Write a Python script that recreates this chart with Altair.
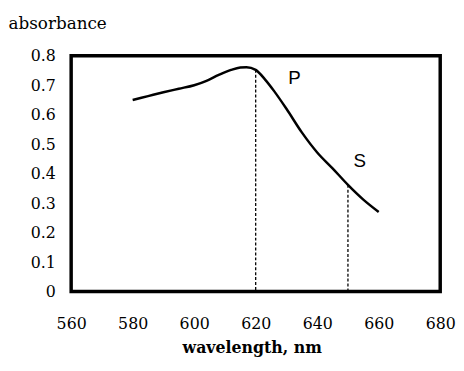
import altair as alt
import pandas as pd

wavelength = [580, 585, 590, 595, 600, 604, 608, 612, 615, 617, 620, 623, 626, 630, 635, 640, 645, 650, 655, 660]
absorbance = [0.65, 0.663, 0.676, 0.688, 0.70, 0.715, 0.735, 0.752, 0.76, 0.761, 0.752, 0.72, 0.68, 0.62, 0.54, 0.472, 0.418, 0.362, 0.312, 0.27]

drop_x = [620, 650]
drop_y = [0.752, 0.362]

label_text = ["P", "S"]
label_x = [630.6, 651.8]
label_y = [0.703, 0.422]

x_ticks = [560, 580, 600, 620, 640, 660, 680]
y_ticks = [0, 0.1, 0.2, 0.3, 0.4, 0.5, 0.6, 0.7, 0.8]

curve = pd.DataFrame({"w": wavelength, "a": absorbance})
drops = pd.DataFrame({"w": drop_x, "a": drop_y, "z": [0, 0]})
labels = pd.DataFrame({"w": label_x, "a": label_y, "t": label_text})

xscale = alt.Scale(domain=[560, 680], nice=False, zero=False)
yscale = alt.Scale(domain=[0, 0.8], nice=False)

SERIF = "DejaVu Serif"

xaxis = alt.Axis(
    title="wavelength, nm", values=x_ticks, tickCount=len(x_ticks) + 1,
    grid=False, ticks=False, tickSize=0, domain=False,
    labelFont=SERIF, labelFontSize=16, labelColor="black",
    labelPadding=24, labelFlush=False, labelOverlap=False,
    titleFont=SERIF, titleFontSize=16, titleFontWeight="bold",
    titleColor="black", titleX=183, titleY=62, titleBaseline="alphabetic",
)
yaxis = alt.Axis(
    title="absorbance", values=y_ticks, tickCount=len(y_ticks) + 1,
    labelExpr="datum.value == 0 ? '0' : format(datum.value, '.1f')",
    grid=False, ticks=False, tickSize=0, domain=False,
    labelFont=SERIF, labelFontSize=16, labelColor="black",
    labelPadding=16, labelFlush=False, labelOverlap=False,
    titleFont=SERIF, titleFontSize=17, titleFontWeight="normal",
    titleColor="black", titleAngle=0, titleX=-64, titleY=-28,
    titleAlign="left", titleBaseline="alphabetic",
)

line = alt.Chart(curve).mark_line(
    color="black", strokeWidth=2.5, interpolate="monotone"
).encode(
    x=alt.X("w:Q", scale=xscale, axis=xaxis),
    y=alt.Y("a:Q", scale=yscale, axis=yaxis),
)

rules = alt.Chart(drops).mark_rule(
    color="black", strokeWidth=1.3, strokeDash=[3, 2]
).encode(
    x=alt.X("w:Q", scale=xscale, axis=xaxis),
    y=alt.Y("a:Q", scale=yscale, axis=yaxis),
    y2="z:Q",
)

texts = alt.Chart(labels).mark_text(
    font="Liberation Sans", fontSize=19, color="black",
    align="left", baseline="alphabetic",
).encode(
    x=alt.X("w:Q", scale=xscale, axis=xaxis),
    y=alt.Y("a:Q", scale=yscale, axis=yaxis),
    text="t:N",
)

chart = alt.layer(line, rules, texts).properties(
    width=374, height=239,
    background="white",
    autosize=alt.AutoSizeParams(type="none"),
    padding={"left": 64, "top": 46, "right": 16, "bottom": 70},
).configure_view(
    stroke="black", strokeWidth=3.5
)

chart.save("out.html", embed_options={"renderer": "svg", "actions": False})
